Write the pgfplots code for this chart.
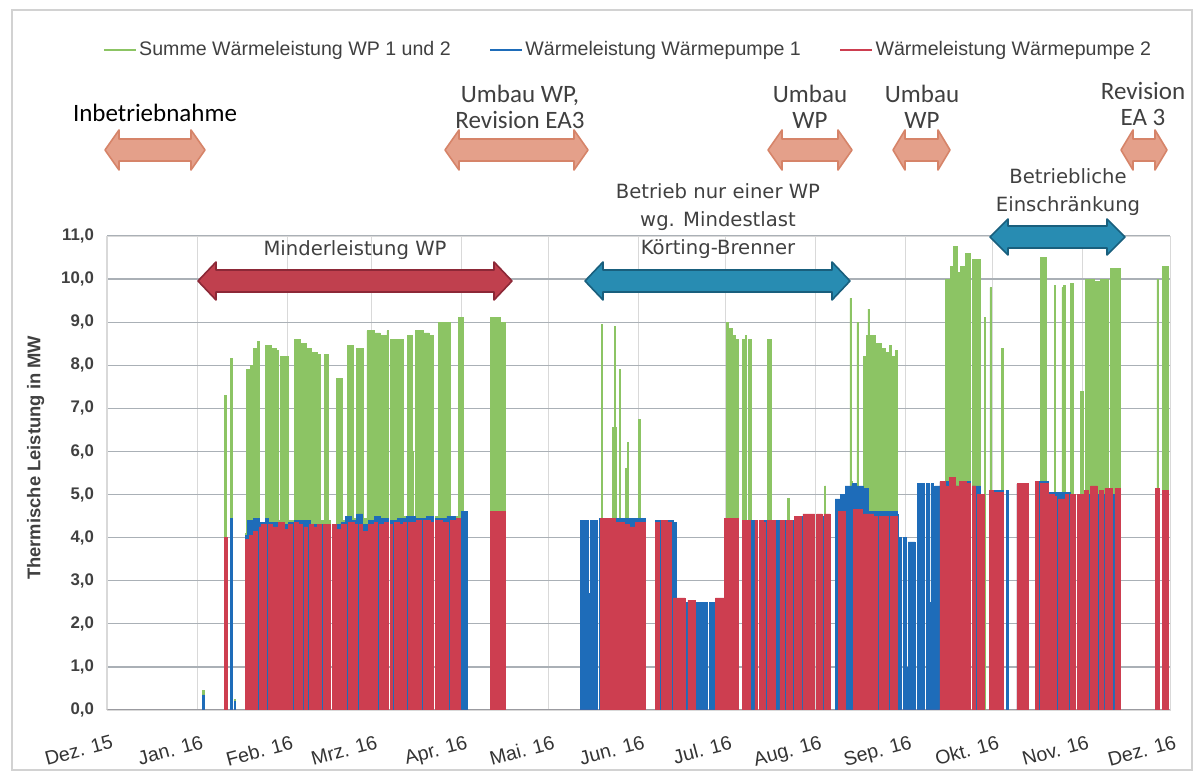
\documentclass[border=0pt]{standalone}
\usepackage{pgfplots}
\pgfplotsset{compat=1.18}
\usepackage{fontspec}
\setmainfont{Liberation Sans}
\newfontfamily\carlito{Carlito}
\newfontfamily\dejavu{DejaVu Sans}
\definecolor{cgreen}{RGB}{140,196,100}
\definecolor{cblue}{RGB}{30,108,185}
\definecolor{cred}{RGB}{205,62,80}
\definecolor{aorange}{RGB}{228,160,138}
\definecolor{aorangeD}{RGB}{214,132,105}
\definecolor{ared}{RGB}{192,64,78}
\definecolor{aredD}{RGB}{140,40,55}
\definecolor{ablue}{RGB}{40,140,178}
\definecolor{ablueD}{RGB}{25,95,125}
\definecolor{gridc}{RGB}{170,176,182}
\definecolor{txtgray}{RGB}{64,64,64}
% double arrow: x1 x2 yc shafthalf headhalf headlen fill draw
\newcommand{\darrow}[8]{\filldraw[fill=#7,draw=#8,line width=0.8pt,line join=round]
 (#1,#3) -- ({#1+#6},{#3-#5}) -- ({#1+#6},{#3-#4}) -- ({#2-#6},{#3-#4}) -- ({#2-#6},{#3-#5}) -- (#2,#3)
 -- ({#2-#6},{#3+#5}) -- ({#2-#6},{#3+#4}) -- ({#1+#6},{#3+#4}) -- ({#1+#6},{#3+#5}) -- cycle;}
\begin{document}
\begin{tikzpicture}
\path[use as bounding box] (0,0) rectangle (602pt,387.5pt);
\begin{axis}[
  at={(53.5pt,32.5pt)}, anchor=south west, scale only axis,
  width=531.5pt, height=237pt,
  xmin=0, xmax=366, ymin=0, ymax=11,
  xtick={0,31,62,91,122,152,183,213,244,275,305,336,366},
  xticklabels={Dez. 15,Jan. 16,Feb. 16,Mrz. 16,Apr. 16,Mai. 16,Jun. 16,Jul. 16,Aug. 16,Sep. 16,Okt. 16,Nov. 16,Dez. 16},
  xticklabel style={font=\fontsize{9.8}{10}\selectfont, color=black!80, rotate=15, anchor=north east, yshift=-9pt, xshift=2pt},
  ytick={0,1,...,11},
  yticklabel style={font=\bfseries\fontsize{8.4}{9}\selectfont, color=txtgray, xshift=-3pt},
  /pgf/number format/fixed, /pgf/number format/fixed zerofill,
  /pgf/number format/precision=1, /pgf/number format/use comma,
  /pgf/number format/assume math mode=true,
  major tick length=0pt,
  xmajorgrids, ymajorgrids,
  x grid style={draw=gray!30, line width=0.5pt},
  y grid style={draw=gridc, line width=0.6pt},
  axis line style={draw=gray!30},
  ylabel={Thermische Leistung in MW},
  ylabel style={font=\bfseries\fontsize{9.2}{10}\selectfont, color=txtgray, at={(axis description cs:-0.067,0.532)}, anchor=center},
  legend style={at={(axis description cs:0.49,1.392)}, anchor=center, draw=none, fill=none,
    legend columns=3, font=\fontsize{9.8}{10}\selectfont, text=txtgray,
    /tikz/every even column/.append style={column sep=18pt},
    inner sep=0pt, nodes={inner sep=1pt}},
  legend image code/.code={\draw[#1] (0pt,0pt) -- (16pt,0pt);},
]
\addlegendimage{draw=cgreen, line width=1.3pt}
\addlegendentry{Summe Wärmeleistung WP 1 und 2}
\addlegendimage{draw=cblue, line width=1.3pt}
\addlegendentry{Wärmeleistung Wärmepumpe 1}
\addlegendimage{draw=cred, line width=1.3pt}
\addlegendentry{Wärmeleistung Wärmepumpe 2}

% Summe WP 1 und 2
\addplot[const plot, fill=cgreen, draw=cgreen, line width=0.4pt, forget plot] coordinates {
(0,0)
(32.8,0.45)(33.4,0)
(40.4,7.3)(41.0,4.0)(41.4,0)
(42.4,8.15)(43.2,0)
(43.9,0.25)(44.3,0)
(47.6,4.1)(47.9,7.9)(49.5,8.0)(50.5,8.4)(51.7,8.55)(52.6,4.35)
(54.6,8.45)(56.5,8.4)(58.4,8.35)(59.0,4.4)
(59.8,8.2)(62.3,4.4)
(64.6,8.6)(66.5,8.5)(68.5,8.4)(70.5,8.3)(72.6,8.25)(73.6,4.4)
(75.0,8.25)(76.2,4.4)(76.8,0)(77.5,4.3)
(78.9,7.7)(80.9,4.4)
(82.8,8.45)(84.8,4.45)
(86.0,8.4)(88.2,4.45)
(89.5,8.8)(92.0,8.75)(94.0,8.7)(96.4,8.8)(97.0,0)(97.7,8.6)(101.9,4.5)
(103.6,8.7)(105.1,6.0)(105.5,4.5)
(106.1,8.8)(109.0,8.75)(111.0,8.7)(112.5,0)(113.2,4.5)
(114.0,9.0)(118.1,4.5)
(120.9,9.1)(122.6,4.6)(124.0,0)
(131.9,9.1)(135.5,9.0)(137.1,0)
(170.3,8.95)(170.7,0)
(174.1,6.55)(174.7,8.9)(175.1,6.55)(175.5,0)
(176.5,7.9)(176.9,0)
(178.5,5.6)(179.2,6.2)(179.6,0)
(183.1,6.75)(183.5,0)
(213.4,9.0)(213.9,8.85)(215.5,8.7)(216.5,8.6)(217.3,0)
(218.8,8.6)(219.8,8.7)(220.3,0)(220.8,8.6)(222.0,0)
(227.3,8.6)(228.7,0)
(234.4,4.9)(234.8,0)
(247.1,5.2)(247.5,0)
(255.8,9.55)(256.2,5.3)(256.5,0)
(258.2,9.0)(258.6,0)
(260.5,8.2)(261.5,8.7)(262.0,9.3)(262.4,8.7)(264.5,8.5)(266.5,8.4)(268.0,8.3)(269.5,8.45)(270.0,8.2)(271.5,8.35)(272.0,0)
(288.6,10.0)(290.5,10.3)(291.3,10.75)(292.7,10.15)(294.0,10.3)(295.5,10.6)(297.2,0)
(297.9,10.45)(300.6,0)
(302.2,9.1)(302.6,0)
(304.0,9.8)(304.4,0)
(308.1,8.4)(308.5,0)
(321.3,10.5)(323.4,0)
(326.3,9.85)(326.7,0)
(328.8,9.8)(329.4,9.85)(329.9,0)
(331.6,9.9)(332.6,0)
(335.1,7.4)(336.1,0)
(336.8,10.0)(340.0,9.95)(342.0,10.0)(344.7,0)
(345.4,10.25)(348.8,0)
(361.5,10.0)(361.9,0)
(363.3,10.3)(365.4,0)
} \closedcycle;

% Waermepumpe 1
\addplot[const plot, fill=cblue, draw=cblue, line width=0.3pt, forget plot] coordinates {
(0,0)
(32.8,0.35)(33.4,0)
(40.4,4.0)(41.4,0)
(42.4,4.45)(43.2,0)
(43.9,0.2)(44.3,0)
(47.6,4.05)(48.4,4.4)(50.5,4.45)(52.6,4.35)(54.6,4.45)(55.6,4.35)(59.0,4.3)(62.5,4.35)(64.4,4.4)(70.0,4.3)(76.8,0)
(77.5,4.3)(80.5,4.35)(82.0,4.5)(84.0,4.4)(86.0,4.55)(88.0,4.3)(90.0,4.4)(92.0,4.5)(94.0,4.45)(97.0,0)
(97.7,4.4)(100.0,4.45)(103.0,4.5)(106.0,4.45)(110.0,4.5)(112.5,0)
(113.2,4.45)(117.0,4.5)(120.0,4.45)(122.0,4.6)(124.0,0)
(162.9,4.4)(165.5,4.4)(165.8,2.7)(166.3,4.4)(168.7,0)(169.5,4.45)(185.3,0)
(188.7,4.4)(195.0,4.35)(196.0,2.5)(206.6,0)
(207.3,2.5)(212.6,4.4)(217.3,0)
(218.7,4.4)(224.0,0)
(224.7,4.4)(236.2,0)(236.8,4.5)(243.6,0)
(244.3,4.5)(249.0,0)
(250.7,4.9)(252.5,5.0)(254.1,5.2)(256.5,5.25)(258.0,5.2)(260.3,5.15)(262.0,4.6)(272.0,4.55)
(272.4,4.0)(273.6,0)(274.2,4.0)(275.3,1.0)(275.8,3.9)(278.2,0)
(278.9,5.25)(281.4,0)(282.0,5.25)(283.2,2.5)(283.7,5.25)(284.4,0)(285.0,5.2)(286.8,5.3)(291.0,5.2)(295.0,5.3)(297.2,0)
(297.9,5.2)(300.6,5.0)(302.0,0)(303.7,5.1)(308.5,0)
(309.8,5.1)(310.2,0)
(313.3,5.25)(317.1,0)
(319.6,5.3)(324.0,5.05)(331.6,5.0)(333.3,0)
(334.0,5.0)(348.8,0)
(366,0)
} \closedcycle;

% Waermepumpe 2
\addplot[const plot, fill=cred, draw=cred, line width=0.3pt, forget plot] coordinates {
(0,0)
(40.4,4.0)(41.4,0)
(47.6,3.95)(49.0,4.05)(50.5,4.15)(51.8,0)(52.5,4.25)(53.0,4.3)(55.0,0)(55.7,4.3)(57.0,4.25)(58.9,4.35)(61.0,4.2)(62.5,4.3)(63.8,0)
(64.5,4.35)(66.0,4.3)(67.2,0)(67.8,4.25)(69.0,0)(69.7,4.3)(71.0,4.25)(72.5,4.3)(73.8,0)(74.4,4.3)(76.8,0)
(77.5,4.3)(79.0,4.2)(80.5,4.3)(82.3,0)(83.0,4.35)(85.0,4.3)(86.3,0)(87.0,4.3)(88.0,4.15)(90.0,4.3)(92.0,4.35)(93.2,0)
(93.9,4.3)(95.5,4.35)(97.0,0)(97.7,4.3)(98.4,0)(99.0,4.35)(100.5,4.3)(102.0,4.35)(103.1,0)
(103.8,4.35)(106.5,4.4)(108.3,0)(109.0,4.4)(111.3,4.35)(112.5,0)
(113.2,4.4)(115.5,4.35)(117.4,0)(118.1,4.4)(120.2,4.45)(121.8,0)
(131.9,4.6)(137.1,0)
(169.8,4.45)(172.0,4.45)(175.0,4.35)(178.0,4.3)(180.0,4.25)(182.0,4.35)(185.3,0)
(188.7,4.35)(190.1,0)(190.8,4.4)(193.0,4.35)(194.3,0)(195.0,2.6)(199.0,0)(200.0,2.55)(202.5,0)
(209.5,2.6)(212.6,4.45)(217.3,0)(218.7,4.4)(221.4,0)(223.1,4.4)(224.0,0)
(224.7,4.4)(226.0,4.35)(226.6,0)(227.3,4.4)(228.0,4.4)(230.0,0)(231.7,4.4)(233.2,0)(233.8,4.4)(235.9,0)
(236.8,4.5)(239.0,0)(239.6,4.55)(243.6,0)(244.3,4.55)(246.2,0)(246.8,4.55)(249.0,0)
(251.7,4.6)(254.1,0)(256.9,4.65)(260.0,0)(260.5,4.55)(264.0,4.5)(265.2,0)(265.8,4.5)(268.0,4.5)(269.0,0)(269.6,4.5)(272.0,0)
(286.8,5.3)(288.5,5.2)(289.5,0)(290.1,5.4)(292.0,5.2)(293.0,0)(293.6,5.3)(296.0,5.25)(297.2,0)
(297.9,5.2)(299.0,0)(299.6,5.0)(302.0,0)
(303.7,5.1)(305.0,0)(305.6,5.05)(308.5,0)
(313.3,5.25)(315.0,0)(315.6,5.25)(317.1,0)
(319.6,5.3)(320.8,0)(321.4,5.25)(324.0,5.0)(326.0,4.95)(327.0,0)(327.6,4.9)(330.0,5.0)(331.0,0)(331.6,5.0)(333.3,0)
(334.0,5.0)(336.5,5.1)(338.0,0)(338.7,5.2)(341.0,0)(341.7,5.1)(343.0,0)(343.6,5.15)(345.0,5.15)(346.3,0)(347.0,5.15)(348.8,0)
(360.9,5.15)(362.4,0)(363.3,5.1)(365.4,0)(366,0)
} \closedcycle;
\end{axis}

\begin{scope}[x=0.5pt,y=-0.5pt,shift={(0,387.5pt)}]
\draw[gray!35, line width=0.8pt] (12,10) rectangle (1192,770);
% top orange arrows
\darrow{105}{205}{150}{11}{20}{14}{aorange}{aorangeD}
\darrow{445}{588}{150}{11}{20}{14}{aorange}{aorangeD}
\darrow{768}{852}{150}{11}{20}{14}{aorange}{aorangeD}
\darrow{893}{950}{150}{11}{20}{12}{aorange}{aorangeD}
\darrow{1121}{1167}{150}{11}{20}{12}{aorange}{aorangeD}
% colored arrows
\darrow{198}{512}{281}{11}{19}{18}{ared}{aredD}
\darrow{585}{850}{281}{11}{19}{18}{ablue}{ablueD}
\darrow{990}{1125}{237}{11}{18}{18}{ablue}{ablueD}
% top labels
\node[font=\carlito\fontsize{12.5}{12.8}\selectfont, text=black] at (155,113) {Inbetriebnahme};
\node[font=\carlito\fontsize{12.5}{12.8}\selectfont, text=txtgray, align=center] at (520,107) {Umbau WP,\\Revision EA3};
\node[font=\carlito\fontsize{12.5}{12.8}\selectfont, text=txtgray, align=center] at (810,107) {Umbau\\WP};
\node[font=\carlito\fontsize{12.5}{12.8}\selectfont, text=txtgray, align=center] at (922,107) {Umbau\\WP};
\node[font=\carlito\fontsize{12.5}{12.8}\selectfont, text=txtgray, align=center] at (1143,104) {Revision\\EA 3};
\node[font=\dejavu\fontsize{9.8}{14}\selectfont, text=txtgray, align=center] at (718,221) {Betrieb nur einer WP\\wg. Mindestlast\\Körting-Brenner};
\node[font=\dejavu\fontsize{9.8}{14}\selectfont, text=txtgray, align=center] at (1068,192) {Betriebliche\\Einschränkung};
\node[font=\dejavu\fontsize{9.8}{12}\selectfont, text=txtgray] at (355,250) {Minderleistung WP};
\end{scope}
\end{tikzpicture}
\end{document}
